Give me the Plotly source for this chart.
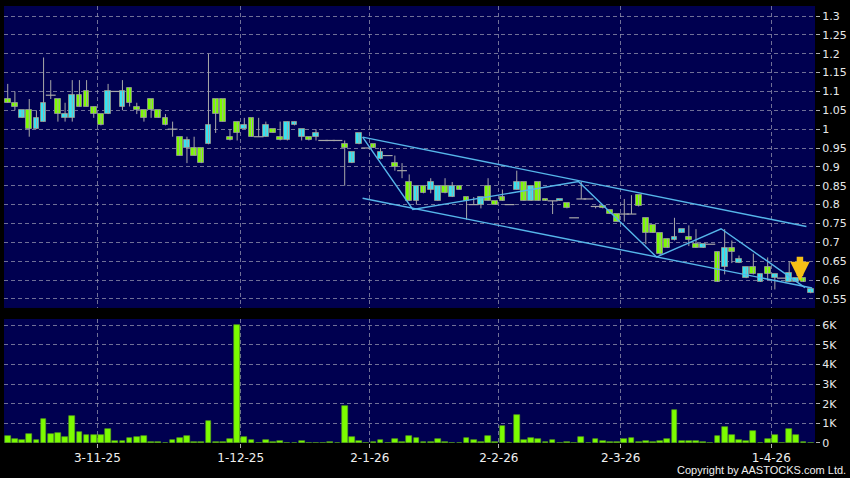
import plotly.graph_objects as go

# daily OHLC (trading-day index 0..112)
open_ = [1.07, 1.06, 1.05, 1.00, 1.03, 1.07, 1.09, 1.04, 1.04, 1.09,
         1.06, 1.06, 1.04, 1.01, 1.10, 1.10, 1.10, 1.07, 1.05, 1.03,
         1.05, 1.03, 1.01, 1.00, 0.93, 0.97, 0.93, 0.91, 1.01, 1.04,
         1.02, 0.97, 0.99, 1.01, 0.98, 0.98, 1.01, 0.99, 0.97, 1.02,
         1.02, 1.00, 0.97, 0.99, 0.97, 0.97, 0.97, 0.95, 0.94, 0.99,
         0.95, 0.95, 0.94, 0.93, 0.90, 0.89, 0.81, 0.85, 0.83, 0.86,
         0.85, 0.83, 0.85, 0.84, 0.81, 0.80, 0.82, 0.81, 0.80, 0.81,
         0.80, 0.86, 0.81, 0.85, 0.81, 0.81, 0.81, 0.815, 0.79, 0.765,
         0.815, 0.815, 0.795, 0.79, 0.775, 0.755, 0.775, 0.775, 0.795, 0.725,
         0.725, 0.67, 0.685, 0.715, 0.735, 0.705, 0.685, 0.695, 0.695, 0.595,
         0.685, 0.675, 0.655, 0.635, 0.615, 0.615, 0.615, 0.615, 0.605, 0.62,
         0.605, 0.595, 0.575]
high = [1.12, 1.10, 1.05, 1.08, 1.05, 1.19, 1.13, 1.08, 1.07, 1.13,
        1.13, 1.13, 1.06, 1.04, 1.12, 1.10, 1.13, 1.11, 1.07, 1.05,
        1.08, 1.05, 1.04, 1.02, 0.98, 0.98, 0.98, 0.95, 1.20, 1.08,
        1.08, 1.00, 1.02, 1.03, 1.03, 1.03, 1.02, 1.00, 1.02, 1.02,
        1.02, 1.00, 0.98, 1.00, 0.97, 0.97, 0.97, 0.97, 0.94, 0.99,
        0.95, 0.96, 0.95, 0.93, 0.93, 0.91, 0.88, 0.85, 0.85, 0.87,
        0.85, 0.87, 0.86, 0.85, 0.82, 0.82, 0.82, 0.87, 0.81, 0.84,
        0.80, 0.89, 0.86, 0.85, 0.86, 0.815, 0.81, 0.815, 0.805, 0.765,
        0.86, 0.815, 0.795, 0.795, 0.785, 0.775, 0.815, 0.825, 0.825, 0.765,
        0.745, 0.725, 0.71, 0.765, 0.735, 0.745, 0.735, 0.695, 0.695, 0.675,
        0.735, 0.705, 0.665, 0.635, 0.67, 0.615, 0.66, 0.615, 0.605, 0.65,
        0.605, 0.605, 0.575]
low = [1.07, 1.05, 1.03, 0.98, 1.00, 1.02, 1.08, 1.02, 1.02, 1.02,
       1.06, 1.06, 1.03, 1.01, 1.04, 1.10, 1.05, 1.06, 1.04, 1.02,
       1.03, 1.03, 1.01, 0.98, 0.93, 0.91, 0.93, 0.91, 0.96, 0.99,
       1.02, 0.97, 0.97, 1.00, 0.98, 0.98, 0.98, 0.99, 0.97, 0.97,
       1.01, 0.97, 0.97, 0.97, 0.97, 0.97, 0.97, 0.85, 0.91, 0.96,
       0.95, 0.95, 0.92, 0.93, 0.89, 0.87, 0.81, 0.80, 0.83, 0.83,
       0.81, 0.83, 0.82, 0.84, 0.76, 0.80, 0.79, 0.81, 0.80, 0.81,
       0.80, 0.84, 0.81, 0.81, 0.81, 0.81, 0.775, 0.81, 0.79, 0.765,
       0.815, 0.815, 0.79, 0.79, 0.775, 0.755, 0.755, 0.775, 0.795, 0.695,
       0.725, 0.665, 0.685, 0.705, 0.725, 0.69, 0.685, 0.685, 0.695, 0.595,
       0.615, 0.645, 0.645, 0.605, 0.615, 0.595, 0.60, 0.575, 0.605, 0.595,
       0.595, 0.595, 0.565]
close = [1.08, 1.07, 1.03, 1.05, 1.00, 1.02, 1.09, 1.08, 1.03, 1.03,
         1.09, 1.10, 1.06, 1.04, 1.04, 1.10, 1.06, 1.11, 1.06, 1.05,
         1.08, 1.05, 1.03, 1.00, 0.98, 0.95, 0.95, 0.95, 0.96, 1.08,
         1.08, 0.98, 1.02, 1.00, 1.03, 0.98, 0.98, 1.00, 0.98, 0.97,
         1.01, 0.98, 0.98, 0.98, 0.97, 0.97, 0.97, 0.96, 0.91, 0.96,
         0.95, 0.96, 0.92, 0.93, 0.91, 0.89, 0.86, 0.81, 0.85, 0.84,
         0.81, 0.85, 0.82, 0.85, 0.82, 0.80, 0.80, 0.85, 0.81, 0.82,
         0.80, 0.84, 0.86, 0.81, 0.86, 0.815, 0.81, 0.81, 0.805, 0.765,
         0.815, 0.815, 0.795, 0.795, 0.785, 0.775, 0.775, 0.775, 0.825, 0.765,
         0.745, 0.725, 0.71, 0.705, 0.725, 0.715, 0.695, 0.685, 0.695, 0.675,
         0.635, 0.685, 0.645, 0.605, 0.635, 0.595, 0.635, 0.605, 0.605, 0.595,
         0.595, 0.605, 0.565]
volume = [340, 220, 170, 456, 170, 1216, 473, 524, 321, 1385,
          540, 389, 422, 422, 726, 85, 100, 236, 304, 338,
          68, 68, 0, 170, 253, 372, 34, 50, 1132, 68,
          68, 203, 6000, 321, 135, 0, 152, 68, 85, 17,
          0, 100, 0, 17, 0, 50, 0, 1892, 321, 100,
          0, 68, 170, 0, 203, 68, 338, 253, 50, 30,
          203, 68, 0, 0, 253, 135, 68, 355, 68, 845,
          0, 1420, 152, 270, 203, 68, 152, 17, 50, 0,
          304, 0, 186, 100, 50, 50, 203, 270, 30, 118,
          50, 118, 203, 1673, 100, 85, 85, 50, 0, 338,
          811, 405, 152, 118, 591, 17, 220, 422, 0, 693,
          389, 34, 20]

tick_labels = ["3-11-25", "1-12-25", "2-1-26", "2-2-26", "2-3-26", "1-4-26"]
tick_pos = [12.5, 32.5, 50.5, 68.5, 85.5, 106.5]
price_ticks = [0.55, 0.6, 0.65, 0.7, 0.75, 0.8, 0.85, 0.9, 0.95, 1.0,
               1.05, 1.1, 1.15, 1.2, 1.25, 1.3]
price_tick_text = ["0.55", "0.6", "0.65", "0.7", "0.75", "0.8", "0.85", "0.9",
                   "0.95", "1", "1.05", "1.1", "1.15", "1.2", "1.25", "1.3"]
vol_ticks = [0, 1000, 2000, 3000, 4000, 5000, 6000]
vol_tick_text = ["0", "1K", "2K", "3K", "4K", "5K", "6K"]

# drawn trend lines (index, price)
upper_x, upper_y = [49.5, 111.4], [0.979, 0.742]
lower_x, lower_y = [49.5, 112.2], [0.817, 0.579]
zig_x = [49.5, 56.5, 79.6, 90.5, 99.5, 111.2]
zig_y = [0.979, 0.787, 0.861, 0.661, 0.736, 0.58]
signal_x, signal_y = 110.5, 0.597

GREEN = "#7cfc00"
CYAN = "#33e4f4"
WICK = "#a8a8a8"
BG = "#000050"
GRID = "rgba(150,150,175,0.75)"

idx = list(range(len(close)))

wx, wy = [], []
for i in idx:
    wx += [i, i, None]
    wy += [low[i], high[i], None]

body_x, body_base, body_h, body_col = [], [], [], []
doji_x, doji_y = [], []
for i in idx:
    if close[i] == open_[i]:
        doji_x.append(i)
        doji_y.append(close[i])
    else:
        body_x.append(i)
        body_base.append(min(open_[i], close[i]))
        body_h.append(abs(close[i] - open_[i]))
        body_col.append(GREEN if close[i] > open_[i] else CYAN)

fig = go.Figure()
fig.add_trace(go.Scatter(x=wx, y=wy, mode="lines", line=dict(color=WICK, width=1),
                         hoverinfo="skip", xaxis="x", yaxis="y"))
fig.add_trace(go.Bar(x=body_x, y=body_h, base=body_base, width=0.8,
                     marker=dict(color=body_col, line=dict(color="rgba(140,150,140,0.9)", width=1)),
                     xaxis="x", yaxis="y"))
fig.add_trace(go.Scatter(x=doji_x, y=doji_y, mode="markers",
                         marker=dict(symbol="line-ew", size=7, line=dict(color=WICK, width=1.2)),
                         xaxis="x", yaxis="y"))

line_style = dict(color="#56b6ea", width=1.4)
fig.add_trace(go.Scatter(x=upper_x, y=upper_y, mode="lines", line=line_style, xaxis="x", yaxis="y"))
fig.add_trace(go.Scatter(x=lower_x, y=lower_y, mode="lines", line=line_style, xaxis="x", yaxis="y"))
fig.add_trace(go.Scatter(x=zig_x, y=zig_y, mode="lines", line=line_style, xaxis="x", yaxis="y"))

fig.add_trace(go.Bar(x=idx, y=volume, width=0.8,
                     marker=dict(color=GREEN, line=dict(color="#5aa51a", width=0.6)),
                     xaxis="x2", yaxis="y2"))

# sell signal arrow
fig.add_annotation(x=signal_x, y=signal_y, xref="x", yref="y", ax=0, ay=-26,
                   showarrow=True, arrowhead=2, arrowsize=0.6, arrowwidth=6.5,
                   arrowcolor="#f5c016", text="")

fig.add_annotation(text="Copyright by AASTOCKS.com Ltd.", xref="paper", yref="paper",
                   x=1, y=-0.062, xshift=33, xanchor="right", yanchor="middle",
                   showarrow=False, font=dict(family="Liberation Sans", size=11, color="#f0f0f0"))

xcommon = dict(range=[-0.52, 112.6], tickvals=tick_pos, showgrid=True, gridcolor=GRID,
               griddash="4px,3px", gridwidth=1, zeroline=False, showline=False, automargin=False)
ycommon = dict(side="right", showgrid=True, gridcolor=GRID, griddash="4px,3px", gridwidth=1,
               zeroline=False, showline=False, ticks="outside", ticklen=4, tickcolor="#b0b0b0",
               tickfont=dict(family="DejaVu Sans", size=11, color="#e8e8e8"), automargin=False)

fig.update_layout(
    width=850, height=478,
    margin=dict(l=4, r=35, t=6, b=35, pad=0),
    paper_bgcolor="black", plot_bgcolor=BG,
    showlegend=False, barmode="overlay", bargap=0,
    xaxis=dict(**xcommon, anchor="y", showticklabels=False, ticks=""),
    yaxis=dict(**ycommon, domain=[0.309, 1], range=[0.526, 1.3265],
               tickvals=price_ticks, ticktext=price_tick_text),
    xaxis2=dict(**xcommon, anchor="y2", matches="x", ticktext=tick_labels, ticks="outside",
                ticklen=4, tickcolor="#b0b0b0",
                tickfont=dict(family="DejaVu Sans", size=12, color="#f0f0f0")),
    yaxis2=dict(**ycommon, domain=[0, 0.2838], range=[0, 6310],
                tickvals=vol_ticks, ticktext=vol_tick_text),
)

# the page's default 8px body margin would shift the chart
fig.write_html("out.html", config={"displayModeBar": False},
               post_script="document.body.style.margin='0';document.body.style.background='black';")
